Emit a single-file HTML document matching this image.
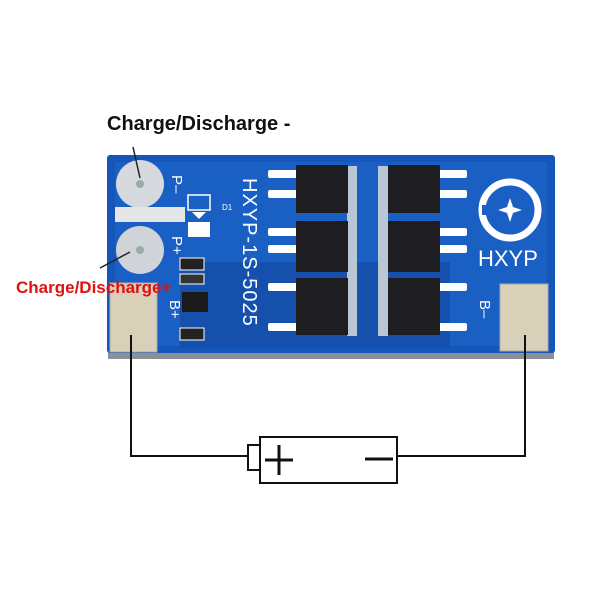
<!DOCTYPE html>
<html><head><style>
html,body{margin:0;padding:0;background:#fff;width:600px;height:600px;overflow:hidden}
</style></head><body>
<svg width="600" height="600" viewBox="0 0 600 600" xmlns="http://www.w3.org/2000/svg">
<rect width="600" height="600" fill="#fff"/>
<!-- board -->
<rect x="108" y="352" width="446" height="7" fill="#8a8f98"/>
<rect x="107" y="155" width="448" height="198" rx="3" fill="#1557b8"/>
<rect x="115" y="162" width="432" height="184" fill="#1a5fc4"/>
<rect x="180" y="262" width="270" height="86" fill="#1650ad"/>
<!-- round pads -->
<circle cx="140" cy="184" r="24" fill="#d6d9dd"/>
<circle cx="140" cy="184" r="4" fill="#9aa"/>
<circle cx="140" cy="250" r="24" fill="#d0d4d8"/>
<circle cx="140" cy="250" r="4" fill="#9aa"/>
<rect x="115" y="207" width="70" height="15" fill="#e4e6e8"/>
<!-- square pads -->
<rect x="110" y="283" width="47" height="69" fill="#d8d0b8" stroke="#aaa" stroke-width="1"/>
<rect x="500" y="284" width="48" height="67" fill="#d8d0b8" stroke="#aaa" stroke-width="1"/>
<!-- D1 -->
<rect x="188" y="195" width="22" height="15" fill="none" stroke="#fff" stroke-width="1.5"/>
<rect x="188" y="222" width="22" height="15" fill="#fff"/>
<polygon points="192,212 206,212 199,219" fill="#fff"/>
<!-- small parts -->
<rect x="180" y="258" width="24" height="12" fill="#222" stroke="#fff"/>
<rect x="180" y="274" width="24" height="10" fill="#333" stroke="#fff"/>
<rect x="182" y="292" width="26" height="20" fill="#1b1b1b"/>
<rect x="180" y="328" width="24" height="12" fill="#222" stroke="#fff"/>
<!-- silkscreen -->
<g fill="#fff" font-family="Liberation Sans, sans-serif">
<text transform="translate(172,175) rotate(90)" font-size="15">P–</text>
<text transform="translate(172,236) rotate(90)" font-size="15">P+</text>
<text transform="translate(170,300) rotate(90)" font-size="15">B+</text>
<text transform="translate(480,300) rotate(90)" font-size="15">B–</text>
<text x="222" y="210" font-size="8">D1</text>
<text transform="translate(243,178) rotate(90)" font-size="20" letter-spacing="1">HXYP-1S-5025</text>
<text x="478" y="266" font-size="22">HXYP</text>
</g>
<!-- logo -->
<circle cx="510" cy="210" r="28" fill="none" stroke="#fff" stroke-width="7"/>
<rect x="482" y="205" width="30" height="10" fill="#1a5fc4"/>
<polygon points="510,198 513,207 522,210 513,213 510,222 507,213 498,210 507,207" fill="#fff"/>
<!-- mosfets -->
<g fill="#fff">
<rect x="268" y="170" width="30" height="8" rx="2"/><rect x="268" y="190" width="30" height="8" rx="2"/>
<rect x="268" y="228" width="30" height="8" rx="2"/><rect x="268" y="245" width="30" height="8" rx="2"/>
<rect x="268" y="283" width="30" height="8" rx="2"/><rect x="268" y="323" width="30" height="8" rx="2"/>
<rect x="437" y="170" width="30" height="8" rx="2"/><rect x="437" y="190" width="30" height="8" rx="2"/>
<rect x="437" y="228" width="30" height="8" rx="2"/><rect x="437" y="245" width="30" height="8" rx="2"/>
<rect x="437" y="283" width="30" height="8" rx="2"/><rect x="437" y="323" width="30" height="8" rx="2"/>
<rect x="347" y="166" width="10" height="170" fill="#b8c6d6"/>
<rect x="378" y="166" width="10" height="170" fill="#b8c6d6"/>
</g>
<g fill="#1e1e20">
<rect x="296" y="165" width="52" height="48"/><rect x="388" y="165" width="52" height="48"/>
<rect x="296" y="221" width="52" height="51"/><rect x="388" y="221" width="52" height="51"/>
<rect x="296" y="278" width="52" height="57"/><rect x="388" y="278" width="52" height="57"/>
</g>
<!-- labels -->
<text x="107" y="130" font-family="Liberation Sans, sans-serif" font-weight="bold" font-size="20" fill="#111">Charge/Discharge -</text>
<line x1="133" y1="147" x2="140" y2="178" stroke="#222" stroke-width="1.5"/>
<line x1="100" y1="268" x2="130" y2="252" stroke="#222" stroke-width="1.5"/>
<text x="16" y="293" font-family="Liberation Sans, sans-serif" font-weight="bold" font-size="17" fill="#e01010">Charge/Discharge+</text>
<!-- wires and battery -->
<polyline points="131,335 131,456 248,456" fill="none" stroke="#111" stroke-width="2"/>
<polyline points="525,335 525,456 397,456" fill="none" stroke="#111" stroke-width="2"/>
<rect x="260" y="437" width="137" height="46" fill="#fff" stroke="#111" stroke-width="2"/>
<rect x="248" y="445" width="12" height="25" fill="#fff" stroke="#111" stroke-width="2"/>
<line x1="265" y1="460" x2="293" y2="460" stroke="#111" stroke-width="3"/>
<line x1="279" y1="445" x2="279" y2="475" stroke="#111" stroke-width="3"/>
<line x1="365" y1="459" x2="393" y2="459" stroke="#111" stroke-width="3"/>
</svg>
</body></html>
